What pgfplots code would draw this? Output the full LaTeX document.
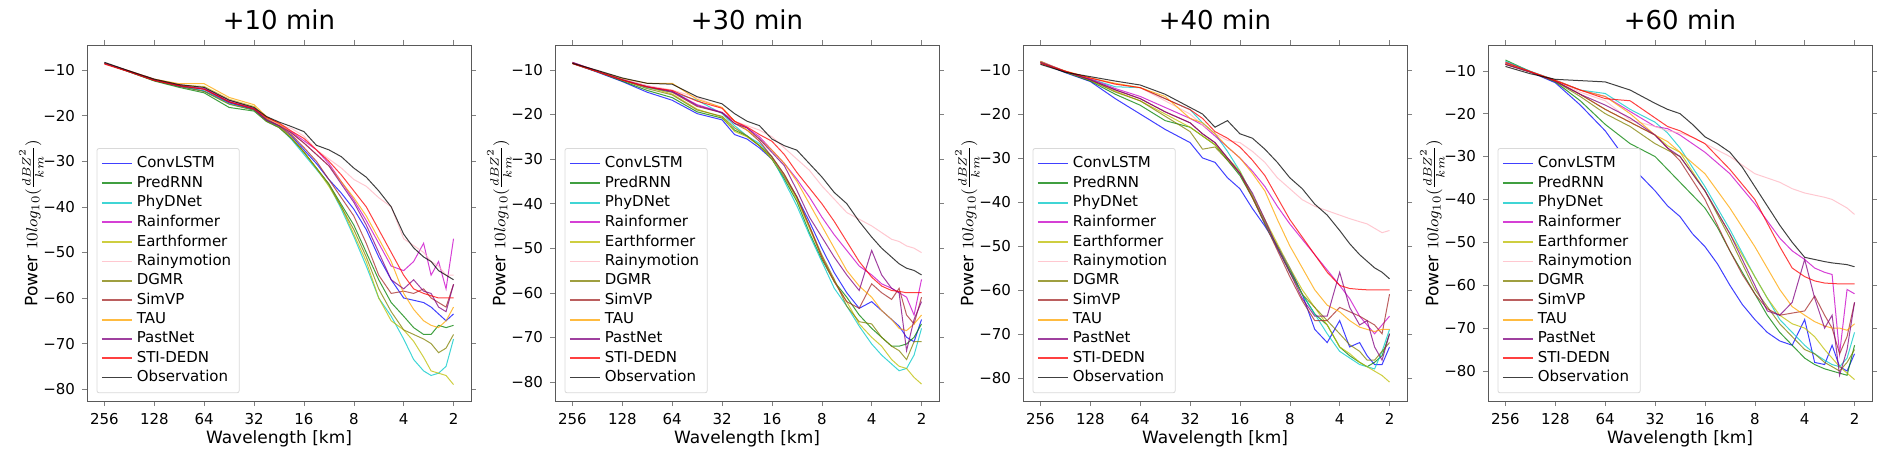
\documentclass[border=0pt]{standalone}
\usepackage{pgfplots}
\usepackage{pgfplotstable}
\pgfplotsset{compat=1.18}
\usepackage{fontspec}
\setmainfont{DejaVu Sans}
\definecolor{cConv}{RGB}{0,0,255}
\definecolor{cPred}{RGB}{0,128,0}
\definecolor{cPhy}{RGB}{0,200,200}
\definecolor{cRainf}{RGB}{200,0,200}
\definecolor{cEarth}{RGB}{190,190,0}
\definecolor{cRainy}{RGB}{255,182,193}
\definecolor{cDgmr}{RGB}{128,128,0}
\definecolor{cSim}{RGB}{165,42,42}
\definecolor{cTau}{RGB}{255,165,0}
\definecolor{cPast}{RGB}{128,0,128}
\definecolor{cSti}{RGB}{255,0,0}
\definecolor{cObs}{RGB}{0,0,0}

\pgfplotstableread{
x conv pred phy rainf earth rainy dgmr simvp tau past sti obs
0    -8.5 -8.5 -8.5 -8.5 -8.5 -8.5 -8.5 -8.5 -8.5 -8.5 -8.7 -8.3
0.5  -10.4 -10.4 -10.3 -10.2 -10.3 -10.3 -10.4 -10.3 -10.2 -10.3 -10.4 -10.2
1    -12.3 -12.4 -12.2 -12.0 -12.1 -12.1 -12.3 -12.1 -12.0 -12.2 -12.3 -12.0
1.5  -13.6 -13.8 -13.5 -13.2 -13.3 -13.3 -13.6 -13.4 -13.0 -13.5 -13.4 -13.2
2    -14.6 -15.0 -14.6 -14.0 -13.6 -13.8 -14.7 -14.2 -13.0 -14.2 -14.2 -13.8
2.5  -17.2 -18.2 -17.4 -16.6 -16.4 -16.5 -17.5 -16.9 -16.0 -17.0 -17.0 -16.6
3    -18.7 -19.0 -18.8 -18.4 -18.0 -18.2 -18.8 -18.5 -17.6 -18.6 -18.5 -18.2
3.25 -21.0 -21.3 -21.0 -20.5 -20.6 -20.4 -21.2 -20.8 -20.2 -21.0 -20.4 -20.2
3.5  -22.4 -22.6 -22.5 -22.0 -22.3 -22.0 -22.6 -22.2 -21.8 -22.2 -21.6 -21.4
3.75 -24.5 -25.0 -25.2 -23.6 -24.8 -22.8 -25.0 -24.2 -23.8 -23.8 -23.4 -22.4
4    -27.5 -28.0 -28.5 -25.5 -28.0 -24.5 -28.0 -27.0 -26.0 -26.0 -25.0 -23.5
4.25 -30.5 -31.5 -31.8 -27.5 -31.5 -27.5 -31.5 -30.0 -28.5 -28.5 -27.5 -26.5
4.5  -34.0 -35.0 -35.2 -30.5 -35.5 -29.5 -35.0 -34.0 -31.0 -31.0 -30.0 -27.5
4.75 -37.0 -39.5 -40.5 -34.5 -40.0 -31.5 -40.0 -38.0 -34.5 -35.0 -33.0 -29.0
5    -40.5 -44.0 -46.5 -38.5 -46.0 -34.0 -45.0 -42.0 -38.0 -39.0 -36.5 -31.5
5.25 -45.0 -50.0 -53.0 -43.0 -52.0 -35.5 -51.0 -48.0 -42.0 -44.0 -40.0 -33.5
5.5  -51.0 -56.0 -60.0 -48.0 -60.0 -38.0 -58.0 -55.0 -47.0 -50.0 -45.0 -36.5
5.75 -56.0 -61.0 -64.0 -53.0 -65.0 -40.0 -63.0 -59.0 -52.0 -56.0 -50.0 -40.0
6    -60.0 -64.0 -69.0 -54.0 -67.0 -47.0 -67.0 -58.5 -59.0 -58.0 -55.0 -46.0
6.2  -60.5 -66.5 -73.5 -52.0 -69.5 -48.5 -68.0 -59.0 -62.5 -56.0 -58.0 -49.0
6.4  -61.0 -68.0 -76.0 -48.0 -73.0 -50.0 -69.0 -58.0 -65.0 -58.5 -59.0 -51.0
6.55 -62.0 -68.0 -77.0 -55.0 -76.0 -52.0 -70.0 -60.0 -66.0 -59.0 -59.5 -52.0
6.7  -63.5 -66.0 -76.5 -52.0 -76.5 -53.0 -72.0 -61.0 -66.5 -62.0 -60.0 -54.0
6.85 -65.0 -66.5 -75.0 -58.0 -77.0 -55.0 -71.0 -62.0 -65.0 -63.0 -60.0 -55.0
7    -63.5 -66.0 -69.0 -47.0 -79.0 -55.0 -68.0 -57.0 -62.0 -57.0 -60.0 -56.0
}\tA

\pgfplotstableread{
x conv pred phy rainf earth rainy dgmr simvp tau past sti obs
0    -8.5 -8.5 -8.5 -8.3 -8.4 -8.5 -8.5 -8.5 -8.4 -8.3 -8.6 -8.5
0.5  -10.5 -10.4 -10.4 -10.2 -10.3 -10.3 -10.4 -10.3 -10.2 -10.3 -10.4 -10.1
1    -12.6 -12.5 -12.3 -12.1 -12.2 -12.1 -12.3 -12.2 -11.9 -12.2 -12.3 -11.8
1.5  -15.0 -14.6 -14.0 -13.6 -13.8 -13.5 -14.2 -13.8 -13.0 -13.8 -13.8 -13.0
2    -16.8 -16.2 -15.0 -14.8 -15.4 -14.5 -15.6 -15.0 -13.0 -14.8 -14.6 -13.2
2.5  -19.8 -19.4 -16.8 -17.8 -18.8 -16.2 -19.0 -18.2 -16.6 -18.0 -17.0 -16.0
3    -21.2 -20.8 -19.8 -19.5 -20.6 -18.6 -20.4 -19.6 -18.4 -19.6 -18.6 -17.6
3.25 -24.5 -23.5 -22.5 -21.5 -23.8 -21.5 -23.0 -22.0 -21.5 -22.0 -21.5 -19.8
3.5  -25.5 -24.8 -24.8 -23.0 -25.0 -22.5 -24.8 -23.5 -23.5 -23.0 -22.8 -21.5
3.75 -27.5 -27.0 -26.5 -25.0 -27.0 -23.5 -27.0 -26.0 -25.5 -25.5 -24.5 -22.5
4    -30.0 -30.0 -29.5 -28.0 -30.0 -25.0 -29.5 -29.5 -28.0 -28.5 -26.0 -25.5
4.25 -34.0 -34.5 -35.0 -31.0 -34.0 -27.5 -33.5 -33.5 -31.0 -31.5 -29.0 -27.0
4.5  -38.5 -39.5 -40.5 -34.5 -39.0 -30.0 -38.5 -38.5 -35.0 -37.0 -33.0 -28.0
4.75 -44.0 -46.5 -47.0 -38.5 -45.5 -32.5 -45.0 -45.0 -40.0 -43.0 -36.5 -31.0
5    -50.0 -52.5 -53.0 -43.0 -52.0 -36.0 -51.5 -52.0 -45.0 -47.5 -40.0 -34.0
5.25 -55.5 -57.5 -59.0 -47.0 -57.5 -39.0 -57.0 -57.5 -50.0 -52.0 -44.0 -37.5
5.5  -60.0 -61.0 -63.0 -50.5 -62.0 -42.0 -63.0 -62.0 -55.0 -56.0 -48.5 -40.0
5.75 -63.5 -65.0 -67.5 -54.0 -67.0 -43.5 -66.5 -63.5 -58.5 -59.5 -53.0 -44.0
6    -62.0 -68.0 -71.5 -56.0 -70.0 -45.0 -67.0 -58.0 -61.0 -50.5 -56.5 -47.5
6.2  -64.0 -70.0 -74.0 -58.0 -72.0 -46.5 -70.0 -60.0 -64.0 -56.0 -58.5 -50.0
6.4  -66.0 -72.0 -76.0 -59.0 -75.0 -48.0 -72.0 -61.5 -66.0 -59.0 -59.5 -52.0
6.55 -67.5 -72.0 -77.5 -60.0 -76.5 -48.5 -73.0 -59.0 -68.0 -60.0 -59.7 -53.5
6.7  -70.0 -71.5 -77.0 -61.0 -77.0 -49.5 -75.0 -65.0 -68.5 -73.0 -60.0 -54.5
6.85 -71.0 -70.0 -74.0 -65.0 -79.0 -50.0 -71.0 -67.0 -67.0 -66.0 -60.0 -55.0
7    -66.0 -67.0 -68.0 -57.0 -80.5 -51.0 -71.0 -61.0 -65.0 -62.0 -60.0 -56.0
}\tB

\pgfplotstableread{
x conv pred phy rainf earth rainy dgmr simvp tau past sti obs
0    -8.3 -8.3 -8.3 -8.0 -8.0 -8.2 -8.2 -8.3 -8.2 -8.2 -8.5 -8.7
0.5  -10.6 -10.5 -10.3 -10.3 -10.4 -10.3 -10.4 -10.3 -10.2 -10.3 -10.3 -10.5
1    -12.6 -12.5 -12.0 -12.0 -12.3 -11.8 -12.3 -12.2 -11.8 -12.2 -11.8 -11.5
1.5  -16.5 -15.5 -13.8 -14.2 -14.8 -13.2 -15.0 -14.5 -13.0 -14.5 -13.2 -12.5
2    -20.0 -18.0 -14.0 -16.0 -17.0 -14.0 -17.0 -16.5 -14.0 -16.5 -14.0 -13.4
2.5  -23.5 -21.5 -16.5 -18.5 -20.0 -17.0 -20.5 -19.5 -16.0 -19.5 -16.5 -15.5
3    -26.5 -23.0 -19.0 -21.0 -23.0 -20.0 -24.0 -22.0 -21.0 -22.0 -19.0 -18.5
3.25 -30.0 -25.0 -22.0 -22.5 -25.0 -22.5 -28.0 -24.5 -22.0 -24.5 -21.0 -20.0
3.5  -31.0 -27.0 -24.5 -25.0 -27.0 -24.5 -27.5 -26.5 -24.5 -26.5 -24.0 -23.0
3.75 -34.5 -30.5 -28.5 -27.5 -30.0 -26.0 -30.5 -30.0 -27.5 -30.0 -25.5 -21.5
4    -37.0 -34.0 -33.0 -30.0 -33.0 -26.5 -33.5 -33.5 -30.0 -33.5 -27.5 -24.5
4.25 -41.5 -39.0 -38.5 -33.0 -38.5 -28.5 -39.0 -39.0 -33.5 -38.0 -30.5 -25.5
4.5  -45.5 -45.0 -45.0 -36.5 -44.0 -31.0 -44.5 -45.0 -37.5 -44.0 -34.0 -28.0
4.75 -50.0 -50.5 -50.5 -41.0 -49.5 -34.5 -50.0 -51.0 -44.0 -50.5 -39.0 -31.0
5    -55.0 -55.5 -56.0 -45.0 -55.0 -37.0 -56.0 -57.0 -50.0 -56.0 -44.0 -34.5
5.25 -61.0 -61.0 -61.0 -48.5 -60.0 -39.5 -61.0 -62.5 -55.0 -62.0 -48.0 -37.0
5.5  -69.0 -65.5 -65.5 -52.0 -64.0 -41.0 -64.0 -67.0 -60.0 -66.0 -52.0 -40.5
5.75 -72.0 -68.0 -70.0 -55.5 -68.0 -42.0 -67.0 -67.0 -63.5 -66.0 -56.0 -43.0
6    -67.0 -73.0 -74.0 -59.0 -73.0 -43.0 -70.0 -64.0 -65.0 -56.0 -59.0 -46.5
6.2  -73.0 -75.0 -75.5 -62.0 -74.5 -43.8 -72.5 -65.0 -67.0 -64.0 -59.7 -49.5
6.4  -72.0 -76.5 -77.0 -66.0 -76.5 -44.5 -74.0 -66.0 -68.5 -68.0 -59.9 -52.0
6.55 -75.0 -77.5 -77.5 -68.0 -77.5 -45.0 -76.0 -67.0 -69.0 -67.0 -60.0 -53.5
6.7  -77.0 -76.5 -78.0 -70.0 -78.5 -46.0 -76.0 -68.0 -69.5 -73.0 -60.0 -55.0
6.85 -77.0 -75.0 -74.0 -68.0 -79.5 -47.0 -74.0 -70.0 -69.0 -76.0 -60.0 -56.0
7    -73.0 -70.0 -69.0 -66.0 -81.0 -46.5 -72.0 -61.0 -69.0 -70.0 -60.0 -57.5
}\tC

\pgfplotstableread{
x conv pred phy rainf earth rainy dgmr simvp tau past sti obs
0    -8.2 -7.5 -7.8 -8.3 -8.5 -8.5 -8.5 -8.5 -8.3 -8.5 -8.0 -9.0
0.5  -10.3 -10.2 -10.1 -10.2 -10.3 -10.3 -10.3 -10.3 -10.2 -10.3 -10.2 -10.7
1    -12.8 -12.6 -12.2 -12.2 -12.4 -12.3 -12.5 -12.4 -12.2 -12.4 -12.3 -12.0
1.5  -18.0 -17.0 -14.5 -14.5 -15.5 -15.0 -16.0 -15.5 -14.5 -15.5 -14.5 -12.3
2    -24.0 -22.5 -15.3 -16.0 -19.0 -17.0 -20.0 -19.0 -16.0 -18.0 -16.5 -12.6
2.5  -32.0 -27.0 -19.0 -19.5 -22.0 -21.5 -23.0 -22.0 -20.0 -21.0 -17.0 -14.5
3    -38.0 -30.0 -22.0 -23.0 -25.0 -23.0 -27.0 -25.0 -25.0 -25.0 -21.0 -17.6
3.25 -41.5 -33.0 -24.5 -23.5 -27.5 -24.0 -28.5 -28.0 -26.5 -28.0 -23.0 -19.0
3.5  -44.0 -36.0 -28.0 -25.0 -29.0 -24.5 -30.0 -31.0 -29.0 -30.0 -24.0 -20.0
3.75 -48.0 -39.0 -32.5 -27.0 -33.5 -25.5 -34.0 -35.5 -31.5 -34.0 -25.5 -22.5
4    -51.0 -42.0 -37.0 -29.0 -38.0 -27.0 -38.0 -40.0 -34.0 -38.0 -27.0 -25.4
4.25 -55.0 -46.5 -42.0 -31.5 -43.0 -28.5 -43.5 -46.0 -38.0 -43.0 -30.0 -27.0
4.5  -60.0 -52.0 -47.0 -34.0 -48.0 -30.0 -49.0 -52.0 -42.0 -48.0 -33.0 -29.0
4.75 -64.5 -57.0 -52.5 -37.5 -53.0 -32.0 -55.0 -57.5 -46.5 -54.0 -36.5 -32.5
5    -68.0 -62.0 -58.0 -41.0 -58.0 -34.0 -61.0 -62.0 -51.0 -60.0 -40.0 -37.0
5.25 -71.0 -67.0 -63.0 -45.0 -63.0 -35.0 -65.0 -65.5 -56.0 -66.0 -45.5 -41.5
5.5  -73.0 -71.0 -68.0 -49.0 -67.0 -36.0 -69.0 -67.0 -61.0 -67.0 -51.0 -46.0
5.75 -74.0 -74.0 -71.0 -52.0 -69.0 -37.5 -72.0 -66.5 -65.0 -64.0 -56.0 -50.0
6    -68.0 -77.0 -74.0 -54.0 -70.0 -38.5 -75.0 -66.0 -67.0 -54.0 -58.0 -53.5
6.2  -78.0 -78.5 -76.0 -56.0 -72.0 -39.0 -76.0 -62.5 -68.5 -63.0 -59.0 -54.0
6.4  -78.5 -79.5 -77.5 -57.0 -75.0 -39.5 -78.0 -67.0 -69.5 -70.0 -59.5 -54.5
6.55 -74.0 -80.0 -78.5 -57.5 -77.0 -40.0 -79.0 -70.0 -70.0 -67.0 -59.6 -54.8
6.7  -79.0 -80.5 -79.0 -76.0 -79.0 -41.0 -80.0 -76.0 -70.0 -81.0 -59.7 -55.0
6.85 -80.0 -81.0 -77.0 -61.0 -80.5 -42.0 -78.0 -72.0 -70.5 -75.0 -59.7 -55.2
7    -76.0 -74.0 -71.0 -62.0 -82.0 -43.5 -75.0 -64.0 -69.0 -64.0 -59.7 -55.7
}\tD

\newcommand\allplots[1]{%
\addplot[cConv] table[x=x,y=conv]{#1};\addlegendentry{ConvLSTM}
\addplot[cPred] table[x=x,y=pred]{#1};\addlegendentry{PredRNN}
\addplot[cPhy] table[x=x,y=phy]{#1};\addlegendentry{PhyDNet}
\addplot[cRainf] table[x=x,y=rainf]{#1};\addlegendentry{Rainformer}
\addplot[cEarth] table[x=x,y=earth]{#1};\addlegendentry{Earthformer}
\addplot[cRainy] table[x=x,y=rainy]{#1};\addlegendentry{Rainymotion}
\addplot[cDgmr] table[x=x,y=dgmr]{#1};\addlegendentry{DGMR}
\addplot[cSim] table[x=x,y=simvp]{#1};\addlegendentry{SimVP}
\addplot[cTau] table[x=x,y=tau]{#1};\addlegendentry{TAU}
\addplot[cPast] table[x=x,y=past]{#1};\addlegendentry{PastNet}
\addplot[cSti] table[x=x,y=sti]{#1};\addlegendentry{STI-DEDN}
\addplot[cObs] table[x=x,y=obs]{#1};\addlegendentry{Observation}
}

\pgfplotsset{panel/.style={
  scale only axis, width=192pt, height=178pt,
  xmin=-0.35, xmax=7.35,
  xtick={0,...,7}, xticklabels={256,128,64,32,16,8,4,2},
  ytick={-10,-20,-30,-40,-50,-60,-70,-80},
  yticklabels={−10,−20,−30,−40,−50,−60,−70,−80},
  tick label style={font=\fontsize{7.5}{8}\selectfont},
  label style={font=\fontsize{8.5}{9}\selectfont},
  title style={font=\fontsize{13}{14}\selectfont, yshift=-2pt},
  tick align=outside, major tick length=2.5pt,
  axis line style={gray!70!black},
  xlabel={Wavelength [km]},
  xlabel style={yshift=4pt},
  ylabel={Power $10log_{10}(\frac{dBZ^2}{km})$},
  ylabel style={yshift=-7pt},
  every axis plot/.append style={line width=0.5pt, opacity=0.75},
  legend cell align=left,
  legend style={at={(0.025,0.022)}, anchor=south west, font=\fontsize{7.5}{9}\selectfont,
    draw=gray!30, rounded corners=1pt, row sep=-1.4pt, inner sep=2pt},
  legend image code/.code={\draw[#1, line width=0.9pt] (0pt,0pt) -- (15pt,0pt);},
}}

\begin{document}
\begin{tikzpicture}
\useasboundingbox (-43.5pt,-30.5pt) rectangle (902.5pt,200.5pt);
\begin{axis}[panel, at={(0pt,0pt)}, ymin=-82.6, ymax=-4.5, title={+10 min}]
\allplots{\tA}
\end{axis}
\begin{axis}[panel, at={(234pt,0pt)}, ymin=-84.3, ymax=-4.4, title={+30 min}]
\allplots{\tB}
\end{axis}
\begin{axis}[panel, at={(468pt,0pt)}, ymin=-85.3, ymax=-4.3, title={+40 min}]
\allplots{\tC}
\end{axis}
\begin{axis}[panel, at={(700.5pt,0pt)}, ymin=-87, ymax=-4, title={+60 min}]
\allplots{\tD}
\end{axis}
\end{tikzpicture}
\end{document}
